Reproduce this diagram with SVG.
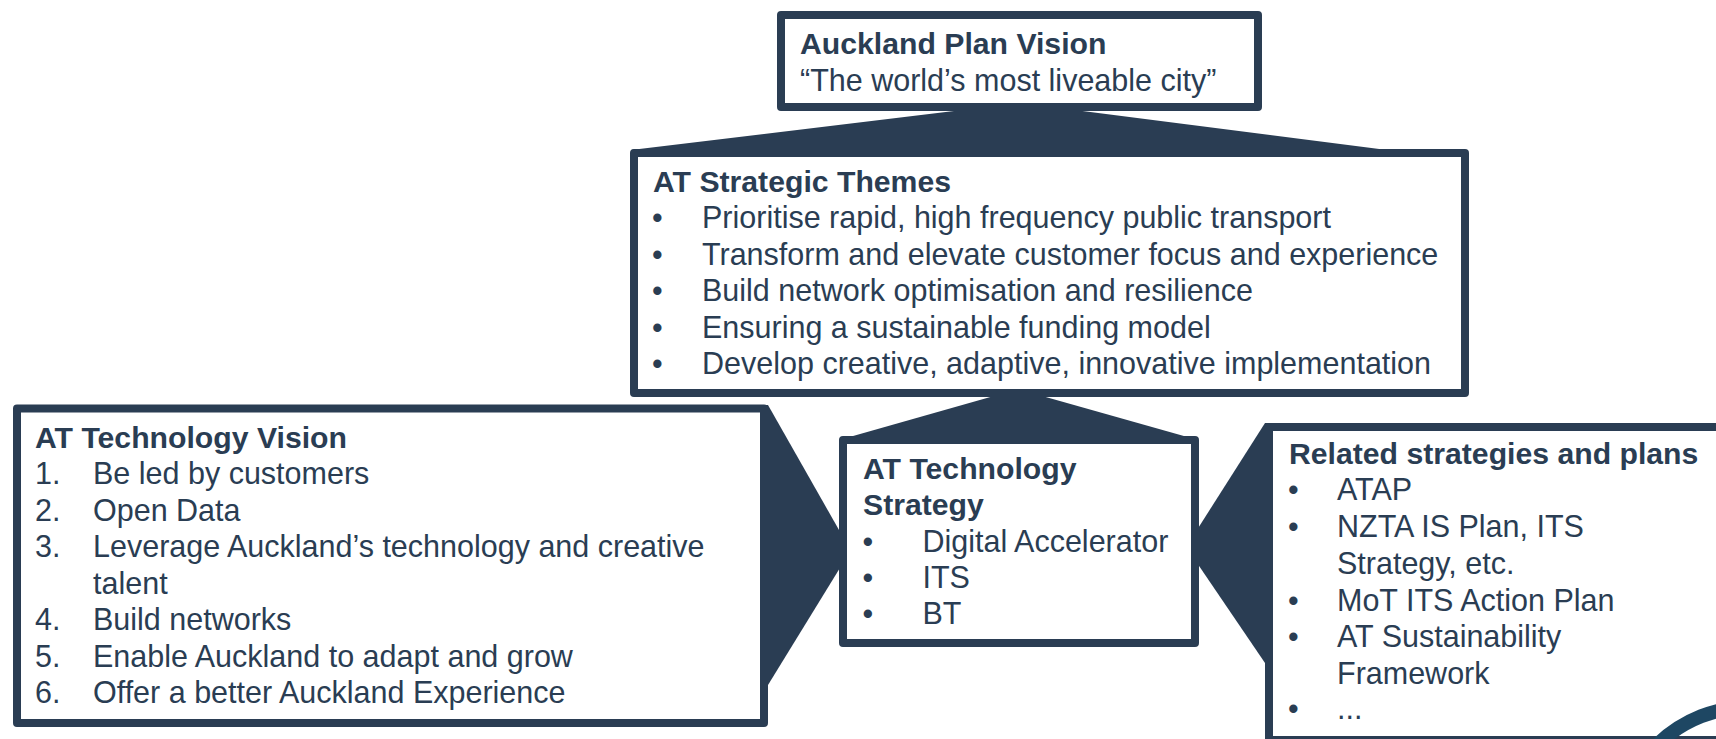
<svg xmlns="http://www.w3.org/2000/svg" width="1716" height="739" viewBox="0 0 1716 739">
<style>
.box{fill:#ffffff;stroke:#2a3d53;stroke-width:8;stroke-linejoin:round}
.conn{fill:#2a3d53;stroke:none}
text{font-family:"Liberation Sans",Arial,sans-serif;font-size:30.5px;fill:#2a3d53}
.b{font-weight:bold;font-size:30.2px}
</style>
<rect width="1716" height="739" fill="#ffffff"/>
<g id="connectors">
<polygon class="conn" points="1020,103 1387,150 631,150"/>
<polygon class="conn" points="1008,392 1028,392 1198,440 839,440"/>
<polygon class="conn" points="755,405 768,405 843,537 843,563 768,685 755,685"/>
<polygon class="conn" points="1195,533 1265,423 1280,423 1280,663 1265,663 1195,560"/>
</g>
<g id="vision">
<rect class="box" x="781" y="15" width="477" height="92"/>
<text class="b" x="800" y="54">Auckland Plan Vision</text>
<text x="800" y="90.5">“The world’s most liveable city”</text>
</g>
<g id="themes">
<rect class="box" x="634" y="153" width="831" height="240"/>
<text class="b" x="653" y="191.5">AT Strategic Themes</text>
<text x="652" y="228">•</text><text x="702" y="228">Prioritise rapid, high frequency public transport</text>
<text x="652" y="264.5">•</text><text x="702" y="264.5">Transform and elevate customer focus and experience</text>
<text x="652" y="301">•</text><text x="702" y="301">Build network optimisation and resilience</text>
<text x="652" y="337.5">•</text><text x="702" y="337.5">Ensuring a sustainable funding model</text>
<text x="652" y="374">•</text><text x="702" y="374">Develop creative, adaptive, innovative implementation</text>
</g>
<g id="techvision">
<rect class="box" x="17" y="408.5" width="747" height="314.5"/>
<text class="b" x="35" y="447.5">AT Technology Vision</text>
<text x="35" y="484">1.</text><text x="93" y="484">Be led by customers</text>
<text x="35" y="520.5">2.</text><text x="93" y="520.5">Open Data</text>
<text x="35" y="557">3.</text><text x="93" y="557">Leverage Auckland’s technology and creative</text>
<text x="93" y="593.5">talent</text>
<text x="35" y="630">4.</text><text x="93" y="630">Build networks</text>
<text x="35" y="666.5">5.</text><text x="93" y="666.5">Enable Auckland to adapt and grow</text>
<text x="35" y="703">6.</text><text x="93" y="703">Offer a better Auckland Experience</text>
</g>
<g id="techstrategy">
<rect class="box" x="843" y="440" width="352" height="203"/>
<text class="b" x="863" y="479">AT Technology</text>
<text class="b" x="863" y="515">Strategy</text>
<text x="862.5" y="551.5">•</text><text x="922.5" y="551.5">Digital Accelerator</text>
<text x="862.5" y="588">•</text><text x="922.5" y="588">ITS</text>
<text x="862.5" y="624">•</text><text x="922.5" y="624">BT</text>
</g>
<g id="related">
<rect class="box" x="1269" y="427" width="500" height="313"/>
<text class="b" x="1289" y="464">Related strategies and plans</text>
<text x="1288" y="500">•</text><text x="1337" y="500">ATAP</text>
<text x="1288" y="537">•</text><text x="1337" y="537">NZTA IS Plan, ITS</text>
<text x="1337" y="574">Strategy, etc.</text>
<text x="1288" y="610.5">•</text><text x="1337" y="610.5">MoT ITS Action Plan</text>
<text x="1288" y="647">•</text><text x="1337" y="647">AT Sustainability</text>
<text x="1337" y="684">Framework</text>
<text x="1288" y="719">•</text><text x="1337" y="719">...</text>
</g>
<circle cx="1750" cy="840" r="133" fill="none" stroke="#1e4763" stroke-width="14"/>
</svg>
